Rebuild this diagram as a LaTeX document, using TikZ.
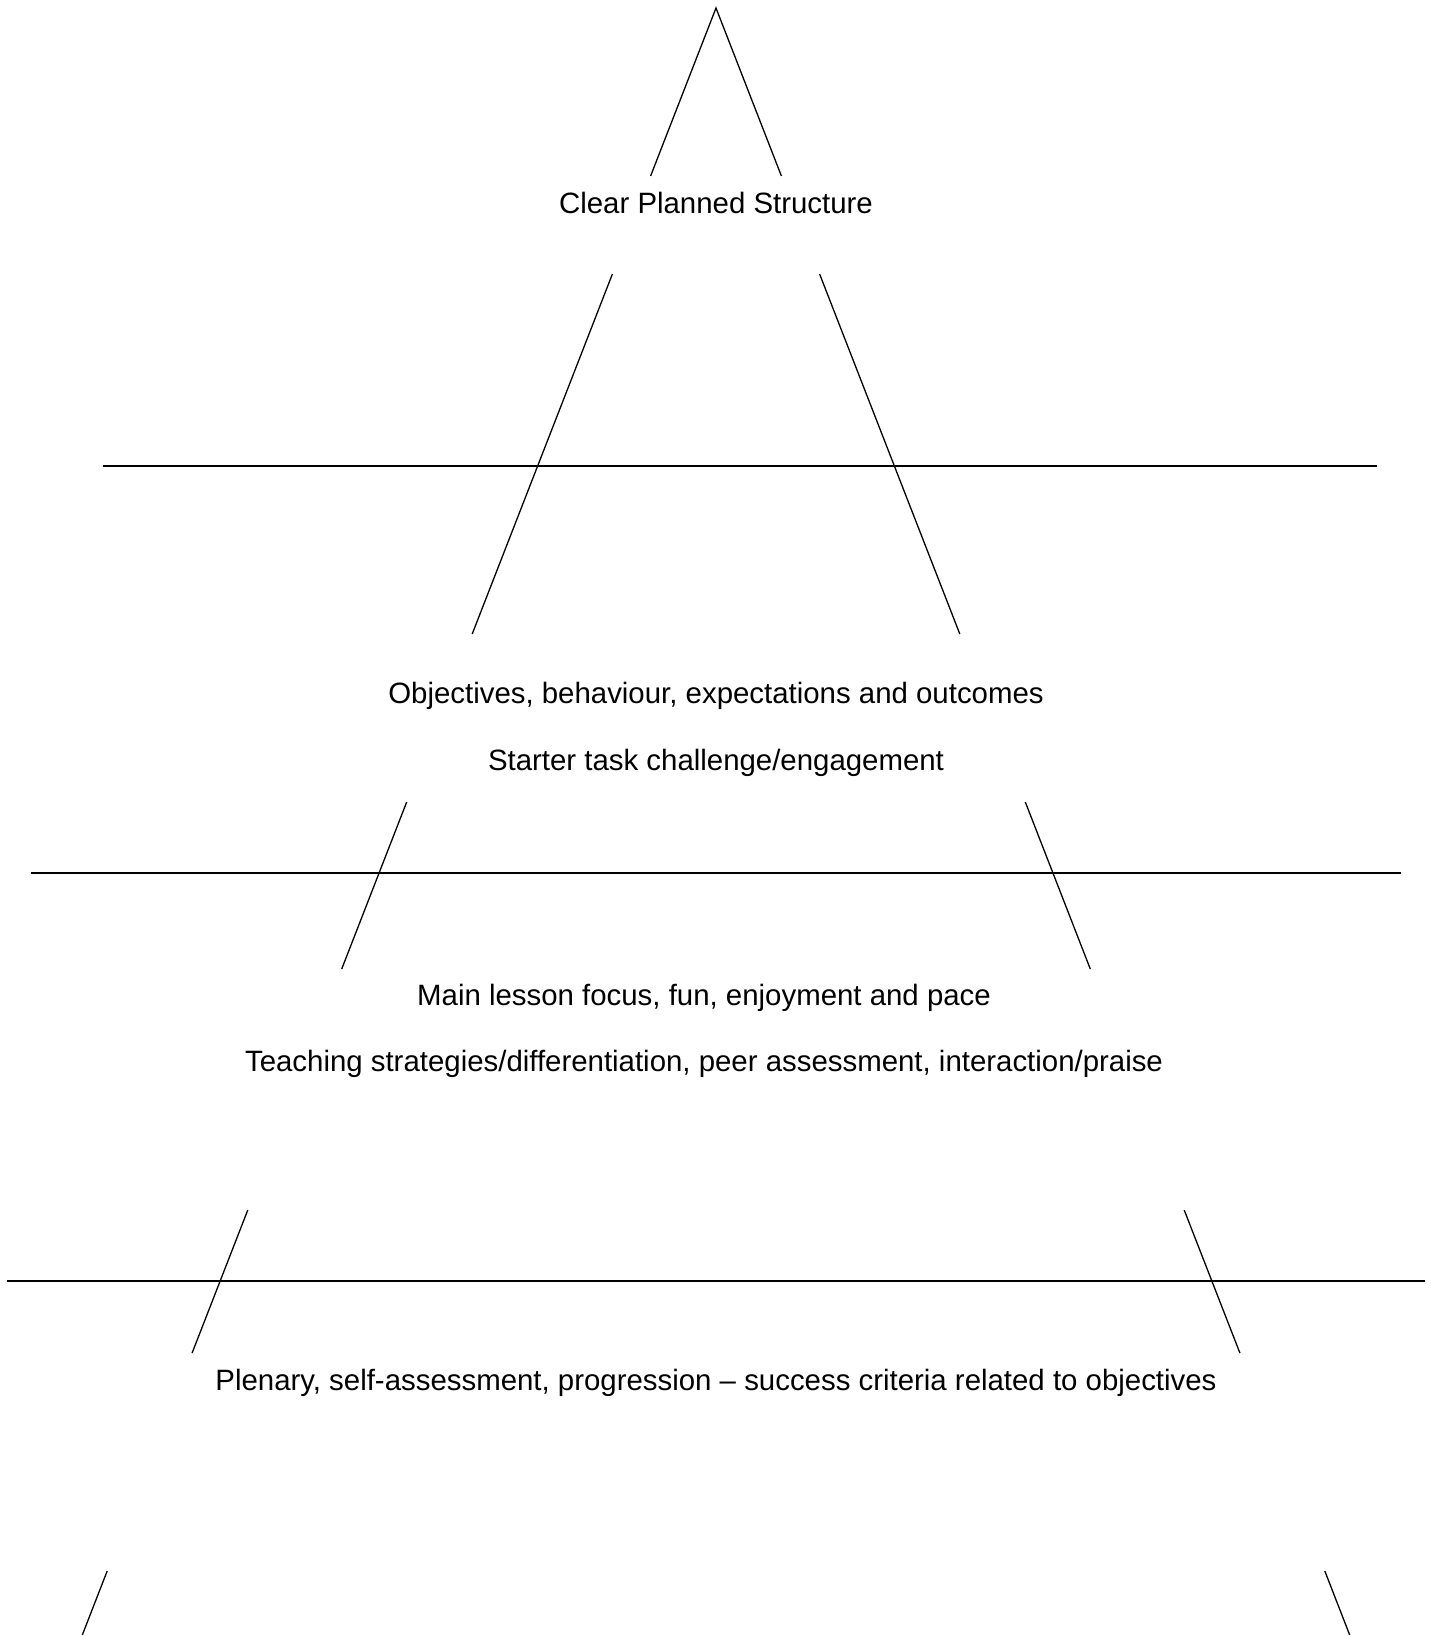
\documentclass[tikz,border=0pt]{standalone}
\usepackage{fontspec}
\setmainfont{Liberation Sans}
\begin{document}
\begin{tikzpicture}[x=0.5pt,y=-0.5pt,
  side/.style={line width=0.65pt},
  band/.style={line width=0.9pt},
  lbl/.style={anchor=base,inner sep=0pt,font=\fontsize{14.7pt}{17pt}\selectfont}]
\useasboundingbox (0,0) rectangle (1431,1635);
% pyramid side segments
\coordinate (apex) at (716,8);
\coordinate (l1) at (650.6,176);   \coordinate (r1) at (781.4,176);
\coordinate (l2a) at (612.4,274);  \coordinate (r2a) at (819.6,274);
\coordinate (l2b) at (472.2,634);  \coordinate (r2b) at (959.8,634);
\coordinate (l3a) at (406.7,802);  \coordinate (r3a) at (1025.3,802);
\coordinate (l3b) at (341.7,969);  \coordinate (r3b) at (1090.3,969);
\coordinate (l4a) at (247.8,1210); \coordinate (r4a) at (1184.2,1210);
\coordinate (l4b) at (192.1,1353); \coordinate (r4b) at (1239.9,1353);
\coordinate (l5a) at (107.2,1571); \coordinate (r5a) at (1324.8,1571);
\coordinate (l5b) at (82.3,1635);  \coordinate (r5b) at (1349.7,1635);
\draw[side] (l1) -- (apex) -- (r1);
\draw[side] (l2a) -- (l2b);  \draw[side] (r2a) -- (r2b);
\draw[side] (l3a) -- (l3b);  \draw[side] (r3a) -- (r3b);
\draw[side] (l4a) -- (l4b);  \draw[side] (r4a) -- (r4b);
\draw[side] (l5a) -- (l5b);  \draw[side] (r5a) -- (r5b);
% horizontal dividers
\coordinate (h1a) at (103,466);  \coordinate (h1b) at (1377,466);
\coordinate (h2a) at (31,873);   \coordinate (h2b) at (1401,873);
\coordinate (h3a) at (7,1281);   \coordinate (h3b) at (1425,1281);
\draw[band] (h1a) -- (h1b);
\draw[band] (h2a) -- (h2b);
\draw[band] (h3a) -- (h3b);
% labels
\node[lbl] (t1) at (716,213) {Clear Planned Structure};
\node[lbl] (t2) at (716,703.5) {Objectives, behaviour, expectations and outcomes};
\node[lbl] (t3) at (716,770.5) {Starter task challenge/engagement};
\node[lbl] (t4) at (704,1005.5) {Main lesson focus, fun, enjoyment and pace};
\node[lbl] (t5) at (704,1071.5) {Teaching strategies/differentiation, peer assessment, interaction/praise};
\node[lbl] (t6) at (716,1390) {Plenary, self-assessment, progression – success criteria related to objectives};
\end{tikzpicture}
\end{document}
